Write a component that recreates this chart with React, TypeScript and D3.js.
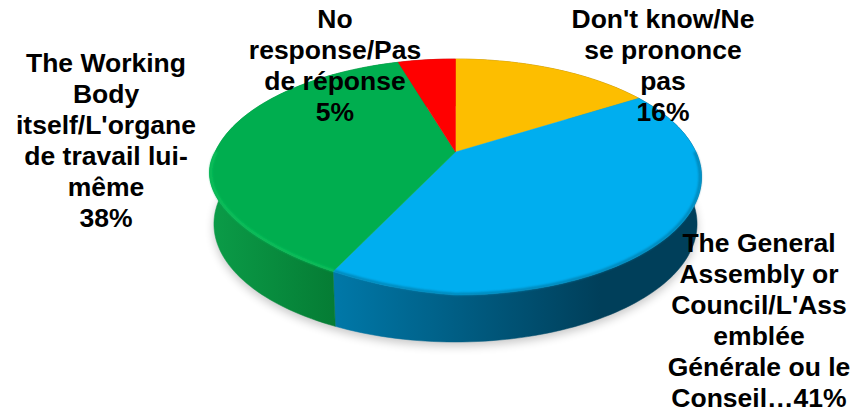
import React from "react";
import * as d3 from "d3";

const categories = ["Don't know", "General Assembly", "Working Body", "No response"];
const sliceValues = [16, 40.4, 38.4, 4.6];
const topColors = ["#FDBE00", "#00AEEF", "#00AE4F", "#FF0000"];
const sideStart = ["#b88a00", "#0078a8", "#0b9c48", "#b00000"];
const sideEnd = ["#8f6c00", "#003f5a", "#057c34", "#800000"];
const rimColors = ["#ffd24d", "#33c8ff", "#0fc45e", "#ff5050"];
const labelLines = [
  ["Don't know/Ne", "se prononce", "pas", "16%"],
  ["The General", "Assembly or", "Council/L'Ass", "emblée", "Générale ou le", "Conseil…41%"],
  ["The Working", "Body", "itself/L'organe", "de travail lui-", "même", "38%"],
  ["No", "response/Pas", "de réponse", "5%"],
];
const labelX = [663, 759, 106, 335];
const labelY = [27.5, 252, 72, 28];

const W = 855, H = 412;
const cx = 455.5, apexY = 152, topY = 59, botY = 295, halfW = 246, depth = 47;
const k = (2 * (apexY) - (topY + botY)) / (topY - botY) ;
const a = topY + topY * k - apexY;
const s = halfW * Math.sqrt(1 - k * k);

function base(t: number): [number, number] {
  const x = Math.sin(t), y = Math.cos(t), d = 1 + k * y;
  return [cx + (s * x) / d, (a * y + apexY) / d];
}
// The top face sits slightly higher over the lower-left part of the rim (bevel).
function project(t: number): [number, number] {
  const [X, Y] = base(t);
  const u = ((t % (2 * Math.PI)) + 2 * Math.PI) % (2 * Math.PI);
  const lift = u > Math.PI && u < 1.5 * Math.PI ? 10.5 * Math.sin(2 * (u - Math.PI)) : 0;
  return [X, Y - lift];
}
function lower(t: number): [number, number] {
  const [X, Y] = base(t);
  return [cx + (X - cx) * 0.982, Y + depth];
}
function inset(t: number): [number, number] {
  const [X, Y] = project(t);
  return [cx + (X - cx) * 0.994, apexY + (Y - apexY) * 0.994];
}
function samples(t0: number, t1: number): number[] {
  const n = Math.max(2, Math.ceil((t1 - t0) * 40));
  return d3.range(n + 1).map((i) => t0 + ((t1 - t0) * i) / n);
}
const line = d3.line<[number, number]>().x((d) => d[0]).y((d) => d[1]);
const pieLayout = d3.pie<number>().sort(null)(sliceValues);
const fullBody = line(samples(0, Math.PI * 2).map(lower)) + "Z";

export default function App() {
  return (
    <svg width={W} height={H} style={{ position: "absolute", left: 0, top: 0 }}>
      <defs>
        <filter id="soft" x="-20%" y="-20%" width="140%" height="140%"><feGaussianBlur stdDeviation="5" /></filter>
        <filter id="rimBlur" x="-5%" y="-5%" width="110%" height="110%"><feGaussianBlur stdDeviation="1" /></filter>
        {pieLayout.map((p, i) => (
          <linearGradient key={i} id={`side${i}`} gradientUnits="userSpaceOnUse" x1={i === 2 ? 210 : 335} x2={i === 2 ? 335 : 600} y1={0} y2={0}>
            <stop offset="0" stopColor={sideStart[i]} />
            <stop offset="1" stopColor={sideEnd[i]} />
          </linearGradient>
        ))}
      </defs>
      <path d={fullBody} fill="#000" opacity={0.22} filter="url(#soft)" transform="translate(0,4)" />
      {pieLayout.map((p, i) => {
        const ts = samples(p.startAngle, p.endAngle);
        const d = line([...ts.map(project), ...ts.slice().reverse().map(lower)]) + "Z";
        return <path key={i} d={d} fill={`url(#side${i})`} stroke={`url(#side${i})`} strokeWidth={0.5} />;
      })}
      {pieLayout.map((p, i) => {
        const ts = samples(p.startAngle, p.endAngle);
        const d = line([[cx, apexY], ...ts.map(project)]) + "Z";
        return <path key={i} d={d} fill={topColors[i]} stroke={topColors[i]} strokeWidth={0.4} />;
      })}
      {pieLayout.map((p, i) => {
        if (i === 0 || i === 3) return null;
        const ts = samples(Math.max(p.startAngle, Math.PI / 2), Math.min(p.endAngle, Math.PI * 1.5));
        const color = i === 1 ? "#007ba8" : rimColors[i];
        return <path key={i} d={line(ts.map(inset)) ?? ""} fill="none" stroke={color} strokeWidth={2.5} opacity={0.85} filter="url(#rimBlur)" />;
      })}
      {labelLines.map((lines, i) => (
        <text key={categories[i]} textAnchor="middle" fontFamily="Liberation Sans" fontWeight="bold" fontSize={26.5} fill="#000">
          {lines.map((t, j) => (
            <tspan key={j} x={labelX[i]} y={labelY[i] + j * 31}>{t}</tspan>
          ))}
        </text>
      ))}
    </svg>
  );
}
